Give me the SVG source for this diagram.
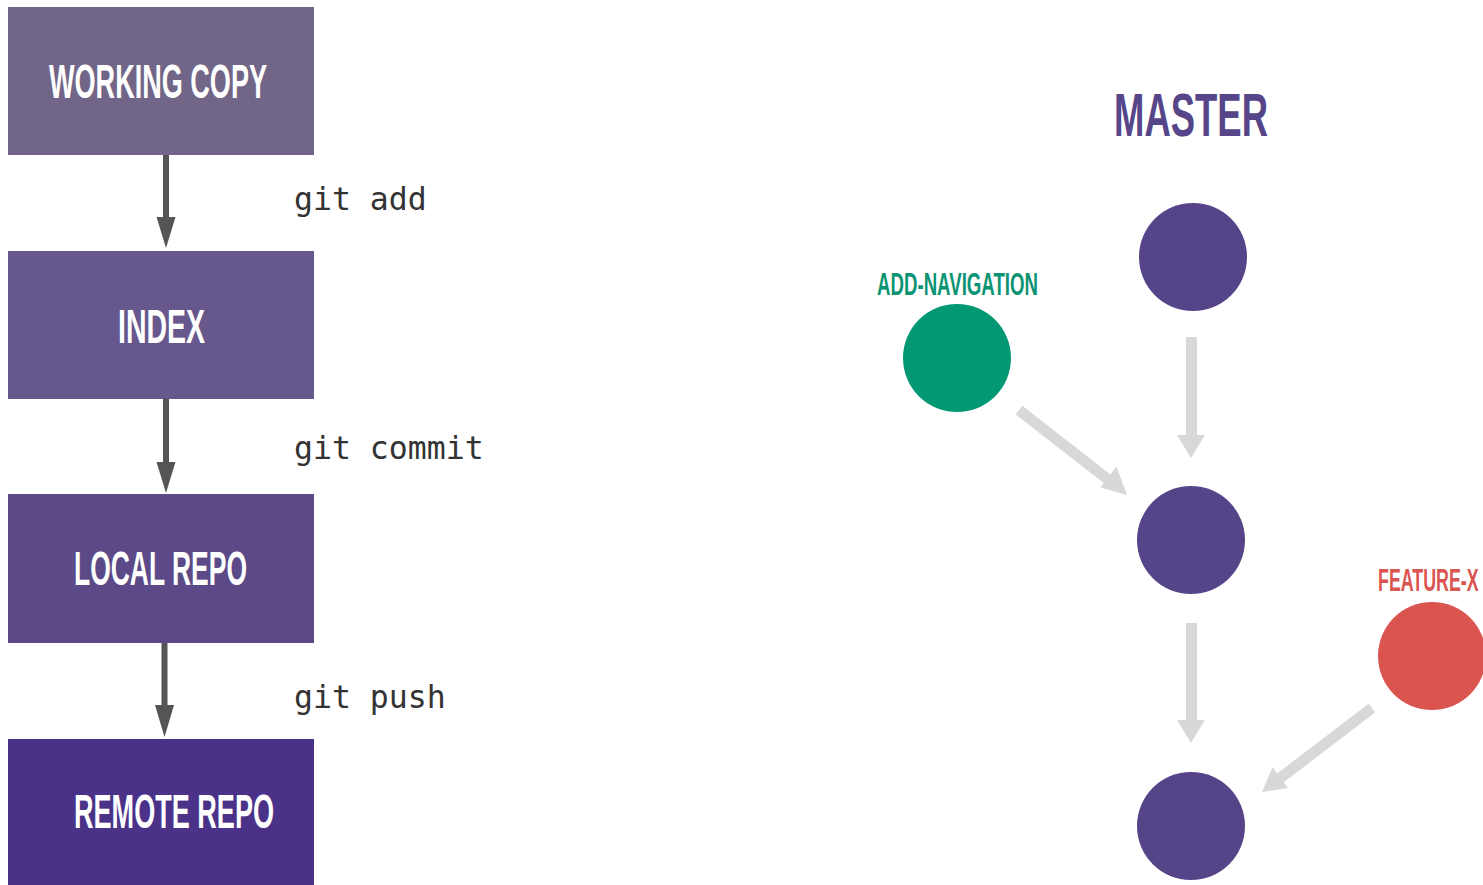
<svg xmlns="http://www.w3.org/2000/svg" width="1483" height="885" viewBox="0 0 1483 885">
<style>
.box{stroke:none}
.bt{font-family:"Liberation Sans",Arial,sans-serif;font-weight:bold;font-size:49px;fill:#ffffff}
.cmd{font-family:"DejaVu Sans Mono",monospace;font-size:31.5px;fill:#333333}
.lbl{font-family:"Liberation Sans",Arial,sans-serif;font-weight:bold}
.dk{stroke:#555555;stroke-width:6;fill:none}
.gr{stroke:#d8d8d8;stroke-width:11;fill:none}
</style>
<rect width="1483" height="885" fill="#ffffff"/>
<g id="working-copy"><rect class="box" x="8" y="7" width="306" height="148" fill="#716688"/><text class="bt" x="49" y="98" textLength="218" lengthAdjust="spacingAndGlyphs">WORKING COPY</text></g>
<g id="index"><rect class="box" x="8" y="251" width="306" height="148" fill="#66588c"/><text class="bt" x="118" y="343" textLength="87" lengthAdjust="spacingAndGlyphs">INDEX</text></g>
<g id="local-repo"><rect class="box" x="8" y="494" width="306" height="149" fill="#5b4a87"/><text class="bt" x="74" y="585" textLength="173" lengthAdjust="spacingAndGlyphs">LOCAL REPO</text></g>
<g id="remote-repo"><rect class="box" x="8" y="739" width="306" height="146" fill="#4a3289"/><text class="bt" x="74" y="828" textLength="200" lengthAdjust="spacingAndGlyphs">REMOTE REPO</text></g>
<g id="connectors">
<line class="dk" x1="166" y1="155" x2="166" y2="220"/><path d="M156.5,217 L175.5,217 L166,248 Z" fill="#555555"/>
<line class="dk" x1="166" y1="399" x2="166" y2="465"/><path d="M156.5,462 L175.5,462 L166,493 Z" fill="#555555"/>
<line class="dk" x1="164.5" y1="643" x2="164.5" y2="708"/><path d="M155,705 L174,705 L164.5,737 Z" fill="#555555"/>
<line class="gr" x1="1191.5" y1="337" x2="1191.5" y2="437"/><path d="M1177,435 L1205,435 L1191,458 Z" fill="#d8d8d8"/>
<line class="gr" x1="1191.5" y1="623" x2="1191.5" y2="722"/><path d="M1177,720 L1205,720 L1191,743 Z" fill="#d8d8d8"/>
<line class="gr" x1="1019" y1="410" x2="1110" y2="481"/><path d="M1127,495 L1100.5,487.5 L1116.5,466.5 Z" fill="#d8d8d8"/>
<line class="gr" x1="1372" y1="708" x2="1279" y2="779"/><path d="M1262,792 L1272.5,767 L1288,788 Z" fill="#d8d8d8"/>
</g>
<g id="cmd-labels">
<text class="cmd" x="294" y="210">git add</text>
<text class="cmd" x="294" y="459">git commit</text>
<text class="cmd" x="294" y="708">git push</text>
</g>
<g id="master-label"><text class="lbl" x="1114" y="136" font-size="61" fill="#574589" textLength="154" lengthAdjust="spacingAndGlyphs">MASTER</text></g>
<g id="commit-1"><circle cx="1193" cy="257" r="54" fill="#554488"/></g>
<g id="commit-2"><circle cx="1191" cy="540" r="54" fill="#554488"/></g>
<g id="commit-3"><circle cx="1191" cy="826" r="54" fill="#554488"/></g>
<g id="add-navigation"><text class="lbl" x="877" y="295" font-size="31" fill="#0a9473" textLength="161" lengthAdjust="spacingAndGlyphs">ADD-NAVIGATION</text><circle cx="957" cy="358" r="54" fill="#039874"/></g>
<g id="feature-x"><text class="lbl" transform="translate(1378,591) scale(0.575,1)" x="0" y="0" font-size="31" fill="#db5550">FEATURE-X</text><circle cx="1432" cy="656" r="54" fill="#db5550"/></g>
</svg>
